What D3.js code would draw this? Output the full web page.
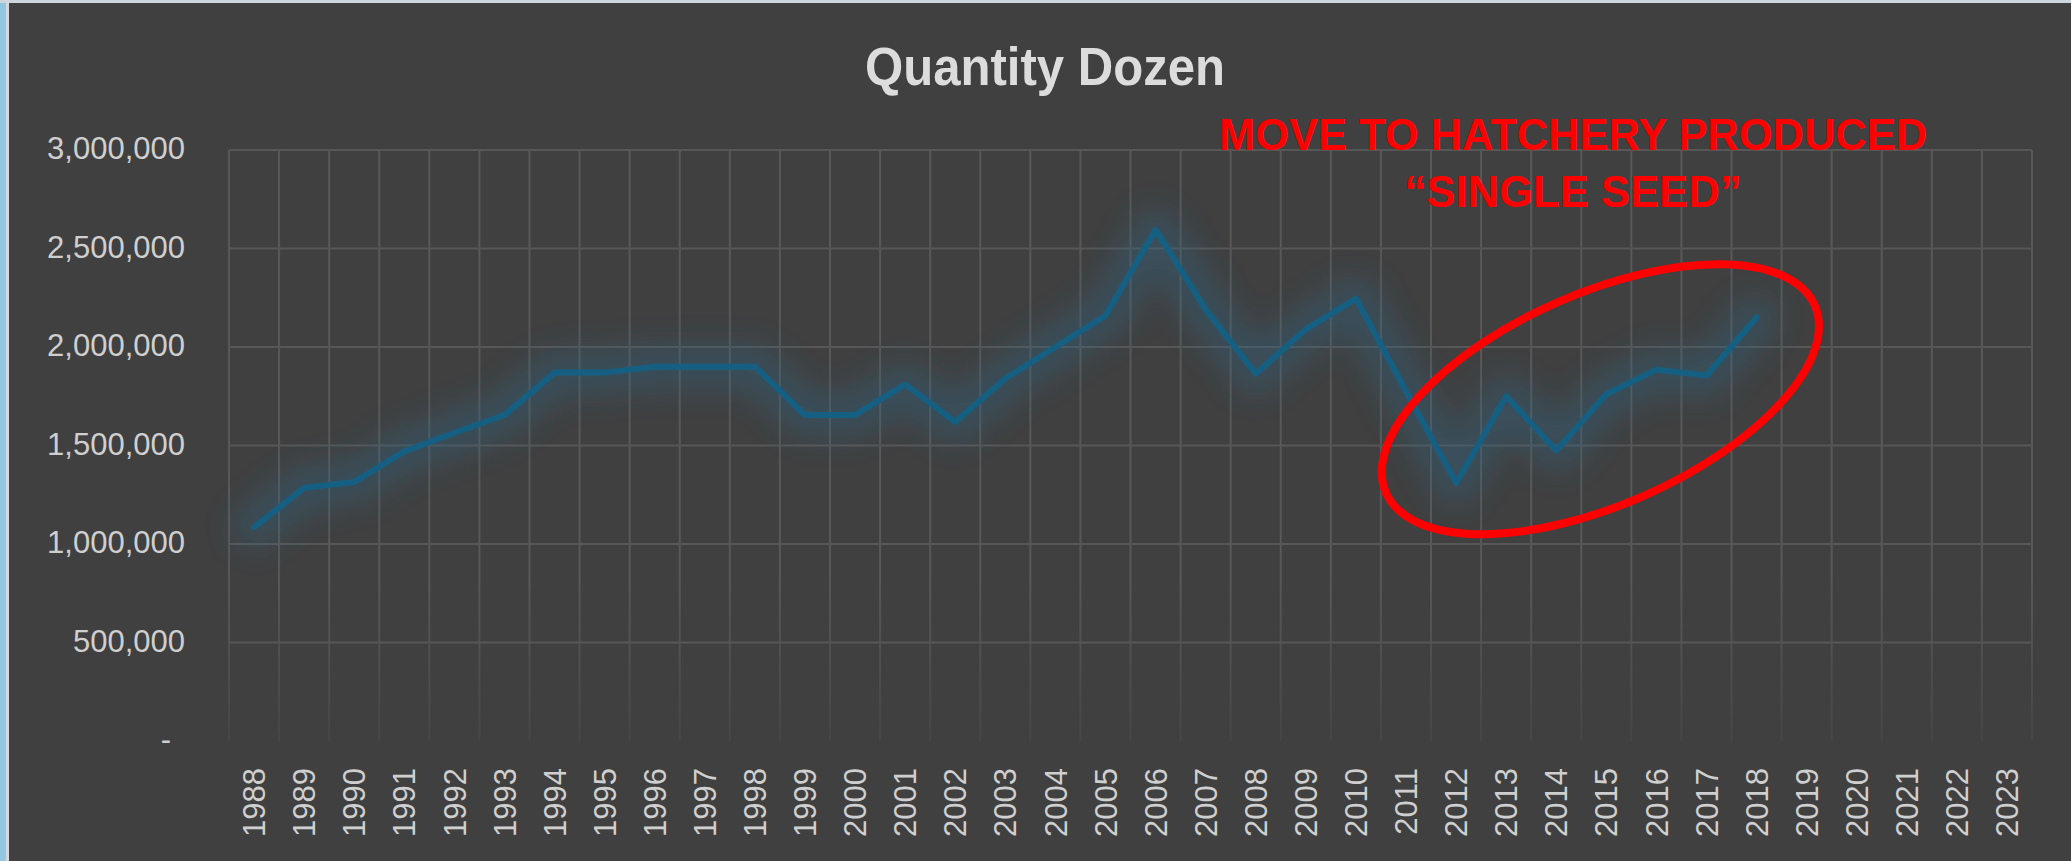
<!DOCTYPE html>
<html>
<head>
<meta charset="utf-8">
<script src="https://cdn.jsdelivr.net/npm/d3@7"></script>
<style>
  html, body { margin: 0; padding: 0; background: #93c6e1; overflow: hidden; }
  svg { display: block; }
</style>
</head>
<body>
<div id="chart"></div>
<script>
'use strict';

// Data
var years = d3.range(1988, 2024).map(String)
var dataYears = d3.range(1988, 2019).map(String)
var quantity = [
  1085000, 1285000, 1315000, 1470000, 1565000, 1655000, 1870000, 1870000,
  1900000, 1900000, 1900000, 1655000, 1655000, 1810000, 1620000, 1840000,
  2000000, 2160000, 2595000, 2190000, 1865000, 2090000, 2245000, 1775000,
  1310000, 1750000, 1475000, 1760000, 1885000, 1855000, 2150000
]
var yTicks = [0, 500000, 1000000, 1500000, 2000000, 2500000, 3000000]
var titleText = "Quantity Dozen"
var noteLines = ["MOVE TO HATCHERY PRODUCED", "\u201CSINGLE SEED\u201D"]

// Setup: dimensions
var W = 2071, H = 861
var margin = {top: 150, right: 39, bottom: 120, left: 229}
var width = W - margin.left - margin.right
var height = H - margin.top - margin.bottom

var svg = d3.select("#chart")
  .append("svg")
  .attr("width", W)
  .attr("height", H)

var defs = svg.append("defs")

// soft glow around the line
var glow = defs.append("filter")
  .attr("id", "glow")
  .attr("x", "-10%").attr("y", "-40%")
  .attr("width", "120%").attr("height", "180%")
glow.append("feGaussianBlur").attr("stdDeviation", 16)

// vertical gridlines fade out near the bottom
var vgrad = defs.append("linearGradient")
  .attr("id", "vgrad")
  .attr("gradientUnits", "userSpaceOnUse")
  .attr("x1", 0).attr("x2", 0)
  .attr("y1", 0).attr("y2", height)
vgrad.append("stop").attr("offset", "0.72").attr("stop-color", "#585858")
vgrad.append("stop").attr("offset", "1").attr("stop-color", "#464646")

// window frame + chart background
svg.append("rect")
  .attr("x", 0).attr("y", 0).attr("width", W).attr("height", 3)
  .attr("fill", "#cdd6dc")
svg.append("rect")
  .attr("x", 6).attr("y", 1).attr("width", 3).attr("height", H)
  .attr("fill", "#d6d8da")
svg.append("rect")
  .attr("x", 9).attr("y", 3).attr("width", W - 9).attr("height", H - 3)
  .attr("fill", "#404040")

var g = svg.append("g").attr("transform", "translate(" + margin.left + "," + margin.top + ")")

var x = d3.scaleBand()
  .domain(years)
  .range([0, width])
  .padding(0)

var y = d3.scaleLinear()
  .domain([0, 3000000])
  .range([height, 0])

var bw = x.bandwidth()

// Gridlines
g.append("g")
  .selectAll("line")
  .data(years.concat(["end"]))
  .join("line")
    .attr("x1", function(d) { return d === "end" ? width : x(d) })
    .attr("x2", function(d) { return d === "end" ? width : x(d) })
    .attr("y1", 0)
    .attr("y2", height)
    .attr("stroke", "url(#vgrad)")
    .attr("stroke-width", 2)

g.append("g")
  .selectAll("line")
  .data(yTicks.filter(function(d) { return d > 0 }))
  .join("line")
    .attr("x1", 0)
    .attr("x2", width)
    .attr("y1", function(d) { return y(d) })
    .attr("y2", function(d) { return y(d) })
    .attr("stroke", "#575757")
    .attr("stroke-width", 2)

// Axes (labels only)
var yAxis = g.append("g")
  .call(d3.axisLeft(y)
    .tickValues(yTicks)
    .tickSize(0)
    .tickPadding(44)
    .tickFormat(function(d) { return d === 0 ? "-" : d3.format(",")(d) }))
yAxis.select(".domain").remove()
yAxis.selectAll("text")
  .attr("fill", "#cfcfcf")
  .attr("font-family", "Liberation Sans, Arial, sans-serif")
  .attr("font-size", "31px")
  .attr("dy", "0.28em")
  .attr("dx", function(d) { return d === 0 ? -14 : 0 })

var xAxis = g.append("g")
  .attr("transform", "translate(0," + height + ")")
  .call(d3.axisBottom(x).tickSize(0))
xAxis.select(".domain").remove()
xAxis.selectAll("text")
  .attr("fill", "#cfcfcf")
  .attr("font-family", "Liberation Sans, Arial, sans-serif")
  .attr("font-size", "31px")
  .attr("transform", "rotate(-90)")
  .attr("text-anchor", "end")
  .attr("x", -27)
  .attr("y", 0)
  .attr("dy", "0.36em")

// Line + glow
var series = dataYears.map(function(d, i) { return {year: d, value: quantity[i]} })

var line = d3.line()
  .x(function(d) { return x(d.year) + bw / 2 })
  .y(function(d) { return y(d.value) })

g.append("path")
  .datum(series)
  .attr("fill", "none")
  .attr("stroke", "#2a6586")
  .attr("stroke-opacity", 0.42)
  .attr("stroke-width", 40)
  .attr("stroke-linejoin", "round")
  .attr("stroke-linecap", "round")
  .attr("filter", "url(#glow)")
  .attr("d", line)

g.append("path")
  .datum(series)
  .attr("fill", "none")
  .attr("stroke", "#156082")
  .attr("stroke-width", 6)
  .attr("stroke-linejoin", "round")
  .attr("stroke-linecap", "round")
  .attr("d", line)

// Title
svg.append("text")
  .attr("x", 1045)
  .attr("y", 85)
  .attr("text-anchor", "middle")
  .attr("fill", "#dcdcdc")
  .attr("font-family", "Liberation Sans Narrow, Arial Narrow, Liberation Sans, sans-serif")
  .attr("font-weight", "bold")
  .attr("font-size", "54px")
  .attr("textLength", 360)
  .attr("lengthAdjust", "spacingAndGlyphs")
  .text(titleText)

// Annotation: note + ellipse round the last years
function xAt(yr) { return (yr - 1988 + 0.5) * bw }

svg.selectAll(".note")
  .data(noteLines)
  .join("text")
    .attr("class", "note")
    .attr("x", 1573)
    .attr("y", function(d, i) { return 150 + i * 57 })
    .attr("text-anchor", "middle")
    .attr("fill", "#ff0000")
    .attr("font-family", "Liberation Sans Narrow, Arial Narrow, Liberation Sans, sans-serif")
    .attr("font-weight", "bold")
    .attr("font-size", "45px")
    .attr("textLength", function(d, i) { return i === 0 ? 708 : 337 })
    .attr("lengthAdjust", "spacingAndGlyphs")
    .text(function(d) { return d })

g.append("ellipse")
  .attr("transform", "translate(" + xAt(2014.88) + "," + y(1735000) + ") rotate(-23.6)")
  .attr("rx", 234)
  .attr("ry", 106)
  .attr("fill", "none")
  .attr("stroke", "#ff0000")
  .attr("stroke-width", 8)
</script>
</body>
</html>
